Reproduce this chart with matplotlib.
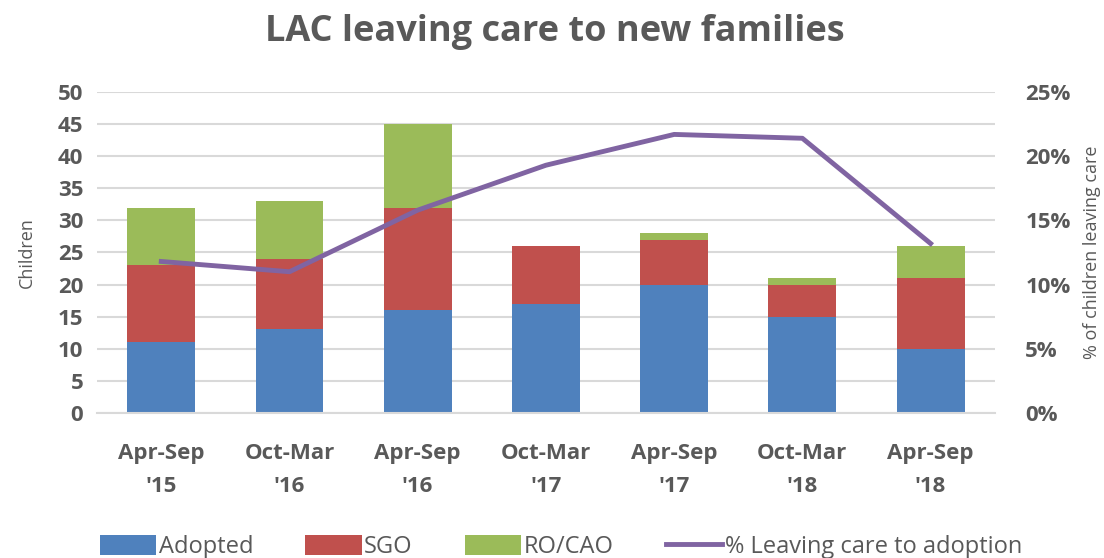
import matplotlib

matplotlib.use("Agg")
import matplotlib.pyplot as plt
from matplotlib.ticker import FuncFormatter


PERIODS = ["Apr-Sep\n'15", "Oct-Mar\n'16", "Apr-Sep\n'16", "Oct-Mar\n'17",
           "Apr-Sep\n'17", "Oct-Mar\n'18", "Apr-Sep\n'18"]
ADOPTED = [11, 13, 16, 17, 20, 15, 10]
SGO = [12, 11, 16, 9, 7, 5, 11]
RO_CAO = [9, 9, 13, 0, 1, 1, 5]
PCT_ADOPTION = [11.8, 11.0, 15.8, 19.3, 21.7, 21.4, 13.2]

TEXT = "#595959"
plt.rcParams["font.family"] = ["Open Sans", "DejaVu Sans"]


def main():
    fig = plt.figure(figsize=(11.04, 5.58), dpi=100)
    ax = fig.add_axes([0.088, 0.26, 0.813, 0.575])
    x = list(range(len(PERIODS)))
    bottom2 = [a + s for a, s in zip(ADOPTED, SGO)]

    ax.bar(x, ADOPTED, width=0.53, color="#4F81BD", label="Adopted", zorder=2)
    ax.bar(x, SGO, width=0.53, bottom=ADOPTED, color="#C0504D", label="SGO", zorder=2)
    ax.bar(x, RO_CAO, width=0.53, bottom=bottom2, color="#9BBB59", label="RO/CAO", zorder=2)

    ax.set_xlim(-0.5, len(PERIODS) - 0.5)
    ax.set_ylim(0, 50)
    ax.set_yticks(range(0, 51, 5))
    ax.yaxis.grid(True, color="#D9D9D9", linewidth=1.5, zorder=0)
    ax.set_axisbelow(True)
    for side in ["top", "right", "left"]:
        ax.spines[side].set_visible(False)
    ax.spines["bottom"].set_color("#D9D9D9")
    ax.spines["bottom"].set_linewidth(1.5)
    ax.tick_params(length=0, colors=TEXT, labelsize=16)
    ax.tick_params(axis="y", pad=10)
    ax.tick_params(axis="x", pad=22)
    ax.set_xticks(x, PERIODS, fontweight="bold", linespacing=1.75)
    for lab in ax.get_yticklabels():
        lab.set_fontweight("bold")
    ax.set_ylabel("Children", color=TEXT, fontsize=13, labelpad=16)

    ax2 = ax.twinx()
    ax2.plot(x, PCT_ADOPTION, color="#8064A2", linewidth=3.5,
             label="% Leaving care to adoption", zorder=3)
    ax2.set_ylim(0, 25)
    ax2.set_yticks(range(0, 26, 5))
    ax2.yaxis.set_major_formatter(FuncFormatter(lambda v, _: f"{v:.0f}%"))
    for side in ["top", "right", "left", "bottom"]:
        ax2.spines[side].set_visible(False)
    ax2.tick_params(length=0, colors=TEXT, labelsize=16, pad=22)
    for lab in ax2.get_yticklabels():
        lab.set_fontweight("bold")
    ax2.set_ylabel("% of children leaving care", color=TEXT, fontsize=13, labelpad=9)

    fig.suptitle("LAC leaving care to new families", x=0.503, y=0.975,
                 fontsize=26, fontweight="bold", color=TEXT)

    h1, l1 = ax.get_legend_handles_labels()
    h2, l2 = ax2.get_legend_handles_labels()
    fig.legend(h1 + h2, l1 + l2, loc="lower center", bbox_to_anchor=(0.508, -0.04),
               ncol=4, frameon=False, fontsize=17, labelcolor=TEXT,
               handlelength=2.4, handleheight=0.9, handletextpad=0.1, columnspacing=2.2)

    fig.savefig("out.png")
    plt.close(fig)


if __name__ == "__main__":
    main()
